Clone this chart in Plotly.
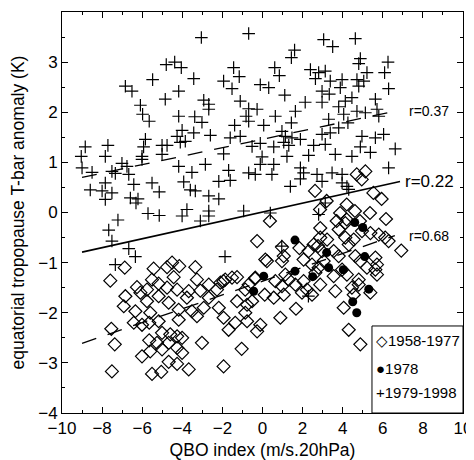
import plotly.graph_objects as go

# ---- data: 1979-1998 (crosses)
cross_x = [-3.05,-4.8,-4.38,-4.05,-5.48,-3.43,-6.84,-6.51,-4.18,-4.85,-6.09,-5.98,-5.65,-4.18,-3.38,-3.02,-2.93,-2.68,-2.68,-1.94,-1.52,-1.44,-1.16,-1.11,-1.39,-1.11,-1.61,-2.6,-3.43,-4.01,-4.26,-4.1,-3.85,-5.84,-5.93,-5.01,-4.76,-8.84,-7.71,-9.04,-7.84,-6.01,-5.01,-1.94,
           -0.69,3.05,3.5,4.63,1.6,1.44,4.88,4.8,6.26,6.09,0.61,0.84,2.39,2.8,3.13,2.64,3.38,3.97,4.71,5.21,5.05,4.8,3.88,-0.11,0.31,1.11,2.97,3.33,6.29,5.63,4.46,4.13,2.13,2.97,3.8,-0.69,-0.27,1.64,-0.82,-0.69,0.64,4.71,5.13,5.71,5.8,4.05,3.3,3.8,4.26,0.06,1.44,0.97,1.14,1.06,1.47,1.89,1.31,2.97,3.38,2.55,3.13,4.96,5.63,6.04,4.88,5.38,6.62,-0.52,-0.11,0.56,1.22,2.3,3.63,4.46,-0.02,
           -9.0,-8.5,-7.51,-7.34,-7.01,-6.76,-6.67,-7.84,-8.59,-8.0,-7.51,-7.84,-6.42,-6.59,-6.21,-6.31,-5.51,-5.15,-6.01,-4.18,-3.52,-2.85,-3.93,-3.6,-3.35,-2.68,-2.18,-1.69,-2.18,-1.61,-5.71,-5.15,-3.77,-4.01,-2.68,-2.68,-3.1,-7.21,-7.67,-7.51,-6.67,-6.34,-7.34,
           -0.11,-0.69,-0.36,0.56,0.47,1.89,2.05,1.89,1.39,2.72,2.97,3.47,3.97,3.97,4.21,4.3,6.29,3.13,2.8,0.39,-0.94,
           -1.87,0.96,2.29]
cross_y = [3.49,2.95,3.0,2.89,2.65,2.67,2.52,2.42,2.42,2.26,2.14,1.96,1.82,1.92,1.91,1.80,2.24,2.16,2.06,2.62,2.47,2.89,2.71,2.22,1.74,1.52,1.49,1.54,1.59,1.64,1.52,1.40,1.42,1.46,1.31,1.34,1.34,1.31,1.34,1.12,1.12,1.12,1.16,1.17,
           3.57,3.45,3.31,3.47,3.24,3.09,3.07,2.97,3.0,2.79,2.89,2.73,2.85,2.79,2.82,2.67,2.62,2.65,2.65,2.79,2.62,2.52,2.49,2.55,2.49,2.34,2.42,2.36,2.47,2.26,2.29,2.22,2.2,2.2,2.11,2.07,2.06,2.02,1.92,1.82,1.92,2.02,1.99,2.06,1.92,1.96,1.86,1.69,1.79,1.74,1.79,1.62,1.52,1.40,1.49,1.46,1.34,1.56,1.59,1.34,1.36,1.52,1.49,1.56,1.31,1.2,1.27,1.32,1.38,1.31,1.12,1.14,1.16,1.12,1.11,
           0.89,0.80,0.82,0.78,0.98,0.92,0.76,0.59,0.45,0.43,0.39,0.26,0.56,0.29,0.27,0.19,0.59,0.41,1.06,0.92,0.80,0.96,0.61,0.45,0.43,0.33,0.27,0.84,0.62,0.64,-0.02,-0.06,0.06,-0.07,0.03,-0.07,-0.17,-0.15,-0.35,-0.57,-0.72,-0.88,-1.04,
           0.96,0.79,0.76,0.96,0.76,0.89,0.79,0.67,0.52,0.76,0.62,0.79,0.76,0.59,0.52,0.46,0.89,0.19,-0.04,-0.01,0.03,
           -0.88,-0.67,-1.67]

# ---- data: 1958-1977 (open diamonds)
dia_x = [5.13,4.7,4.95,2.62,5.53,5.94,3.2,2.87,4.2,4.61,3.87,5.36,6.16,0.37,3.7,4.2,4.86,
         4.13,2.88,3.8,4.13,4.55,4.3,4.96,5.38,5.8,6.12,6.29,6.92,-0.27,0.97,1.84,0.22,0.14,0.97,1.06,2.55,2.88,3.22,2.3,2.77,2.97,3.55,3.8,2.05,2.47,3.05,4.63,4.88,5.21,5.63,5.71,5.71,5.63,3.97,4.21,4.8,4.8,4.46,4.55,5.38,3.55,3.63,4.05,4.3,4.88,2.8,2.64,2.88,2.47,2.22,1.97,2.05,1.64,1.31,1.14,0.64,0.97,1.06,0.56,0.11,-0.36,-0.69,-0.86,-0.52,-0.77,-0.86,-0.77,-0.11,-0.27,0.89,1.67,
         -6.87,-7.59,-5.43,-4.76,-4.51,-4.15,-3.35,-4.43,-5.51,-5.18,-6.26,-5.76,-6.84,-6.09,-4.76,-4.26,-3.27,-2.68,-2.1,-1.86,-1.52,-1.27,-2.27,-3.1,-3.68,-5.18,-4.68,-5.76,-6.92,-6.34,-5.6,-5.18,-4.18,-4.18,-3.52,-3.27,-2.93,-2.68,-2.18,-1.94,-1.36,-1.69,-1.27,-3.77,-6.42,-6.01,-5.65,-7.54,-7.37,-5.65,-5.26,-5.01,-4.6,-4.26,-4.01,-4.68,-4.26,-4.01,-5.01,-5.6,-6.01,-3.02,-7.51,-5.51,-5.05,-4.68,-4.26,-3.68,-1.94,
         -1.95,-0.37,-1.04]
dia_y = [0.82,0.76,0.66,0.43,0.39,0.27,0.23,0.06,0.16,0.03,-0.01,-0.01,-0.13,-0.17,-0.17,-0.14,-0.17,
         -0.21,-0.31,-0.34,-0.5,-0.54,-0.64,-0.37,-0.41,-0.44,-0.5,-0.57,-0.76,-0.57,-0.69,-0.71,-0.97,-0.94,-0.97,-0.87,-0.64,-0.5,-0.54,-0.77,-0.67,-0.77,-0.77,-0.87,-0.94,-1.04,-0.97,-0.87,-0.97,-1.1,-0.9,-1.04,-1.24,-1.14,-1.14,-1.24,-1.34,-1.44,-1.5,-1.64,-1.6,-1.27,-1.57,-1.9,-2.34,-2.63,-1.1,-1.2,-1.44,-1.64,-1.54,-1.6,-1.37,-1.44,-1.34,-1.24,-1.37,-1.47,-1.64,-1.7,-1.64,-1.3,-1.44,-1.54,-1.77,-1.84,-2.0,-2.17,-2.24,-2.37,-2.1,-1.92,
         -1.1,-1.36,-1.12,-1.09,-1.0,-1.07,-1.09,-1.29,-1.34,-1.42,-1.49,-1.54,-1.67,-1.6,-1.5,-1.54,-1.34,-1.44,-1.4,-1.34,-1.3,-1.29,-1.54,-1.56,-1.57,-1.67,-1.8,-1.77,-1.87,-1.97,-2.0,-2.17,-2.14,-1.94,-1.97,-2.07,-1.9,-1.7,-1.9,-2.1,-2.2,-2.34,-1.77,-1.7,-2.2,-2.24,-2.2,-2.32,-2.63,-2.55,-2.6,-2.4,-2.43,-2.47,-2.5,-2.6,-2.7,-2.8,-2.73,-2.77,-2.87,-2.6,-3.17,-3.22,-3.18,-2.98,-3.02,-3.13,-3.07,
         -1.37,-1.32,-2.72]

# ---- data: 1978 (filled circles)
y78_x = [-0.44,0.06,1.62,1.62,2.5,3.2,3.3,4.03,4.6,5.0,5.1,5.3,4.5,4.7]
y78_y = [-1.57,-1.27,-0.55,-1.17,-1.28,-0.8,-1.1,-1.14,-0.2,-0.3,-0.88,-1.53,-1.78,-2.0]

# ---- regression lines
fit_all_x = [-9.0, 6.86]
fit_all_y = [-0.79, 0.62]
fit_late_x = [-9.0, 6.36]
fit_late_y = [0.70, 2.0]
fit_early_x = [-9.0, 6.6]
fit_early_y = [-2.61, -0.46]

labels = ["1958-1977", "1978", "1979-1998"]
legend_glyphs = ["\u25c7", "\u25cf", "+"]
r_text = ["r=0.37", "r=0.22", "r=0.68"]
r_pos_x = [7.2, 7.0, 7.2]
r_pos_y = [2.02, 0.62, -0.46]

FONT = "Liberation Sans, Arial, sans-serif"
fig = go.Figure()

fig.add_trace(go.Scatter(x=fit_all_x, y=fit_all_y, mode="lines",
                         line=dict(color="black", width=1.6), showlegend=False, hoverinfo="skip"))
fig.add_trace(go.Scatter(x=fit_late_x, y=fit_late_y, mode="lines",
                         line=dict(color="black", width=1.3, dash="15px,12px"), showlegend=False, hoverinfo="skip"))
fig.add_trace(go.Scatter(x=fit_early_x, y=fit_early_y, mode="lines",
                         line=dict(color="black", width=1.3, dash="15px,12px"), showlegend=False, hoverinfo="skip"))

fig.add_trace(go.Scatter(x=dia_x, y=dia_y, mode="markers", name=labels[0], showlegend=False,
                         marker=dict(symbol="diamond-open", size=10, color="black", line=dict(width=1.2))))
fig.add_trace(go.Scatter(x=y78_x, y=y78_y, mode="markers", name=labels[1], showlegend=False,
                         marker=dict(symbol="circle", size=9, color="black")))
fig.add_trace(go.Scatter(x=cross_x, y=cross_y, mode="markers", name=labels[2], showlegend=False,
                         marker=dict(symbol="cross-thin", size=9, color="black", line=dict(width=1.2, color="black"))))

for t, xx, yy in zip(r_text, r_pos_x, r_pos_y):
    fig.add_annotation(x=xx, y=yy, text=t, showarrow=False, xanchor="left", yanchor="middle",
                       font=dict(size=17 if t == "r=0.22" else 14, color="black", family=FONT))

# legend box (lower right, flush with the frame)
leg_x0, leg_y1 = 0.773, 0.217
fig.add_shape(type="rect", xref="paper", yref="paper", x0=leg_x0, x1=1, y0=0, y1=leg_y1,
              line=dict(color="black", width=1), fillcolor="white", layer="above")
leg_rows = [0.182, 0.11, 0.05]
for g, lab, yy in zip(legend_glyphs, labels, leg_rows):
    fig.add_annotation(xref="paper", yref="paper", x=leg_x0 + 0.004, y=yy, text=g + lab,
                       showarrow=False, xanchor="left", yanchor="middle",
                       font=dict(size=15, color="black", family=FONT))

axis_common = dict(showline=True, linecolor="black", linewidth=1, mirror="ticks", ticks="inside",
                   tickcolor="black", ticklen=6, zeroline=False, showgrid=False, automargin=False,
                   tickfont=dict(size=17, color="black", family=FONT))

fig.update_xaxes(range=[-10, 10], dtick=2, tick0=0,
                 minor=dict(dtick=1, ticks="inside", ticklen=3, tickcolor="black", showgrid=False),
                 title=dict(text="QBO index (m/s.20hPa)", font=dict(size=17.5, color="black", family=FONT)),
                 **axis_common)
fig.update_yaxes(range=[-4, 4], dtick=1, tick0=0,
                 minor=dict(dtick=0.5, ticks="inside", ticklen=3, tickcolor="black", showgrid=False),
                 title=dict(text="equatorial tropopause T-bar anomaly (K)", font=dict(size=17.5, color="black", family=FONT)),
                 **axis_common)

# page body has an 8px default margin, so the figure is sized to end at the window edge
fig.update_layout(
    template="none",
    width=466, height=452,
    margin=dict(l=54, r=11, t=4, b=47, autoexpand=False),
    paper_bgcolor="white", plot_bgcolor="white",
    font=dict(family=FONT, color="black"),
    showlegend=False,
)

fig.write_html("out.html")
